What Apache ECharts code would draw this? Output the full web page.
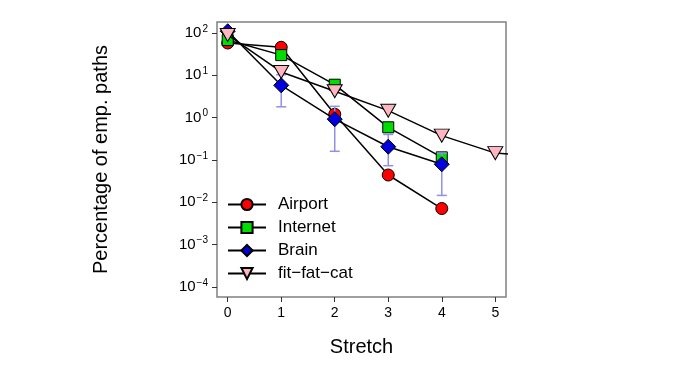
<!DOCTYPE html>
<html>
<head>
<meta charset="utf-8">
<script src="https://cdn.jsdelivr.net/npm/echarts@6/dist/echarts.min.js"></script>
<style>html,body{margin:0;padding:0;background:#fff}#c{width:680px;height:368px}</style>
</head>
<body>
<div id="c"></div>
<script>
var stretch = [0, 1, 2, 3, 4, 5, 6];
var airport = [58, 46, 1.2, 0.044, 0.0071];
var internet = [68, 30, 6.0, 0.59, 0.115];
var brain = [110, 5.8, 0.92, 0.205, 0.079];
var fitFatCat = [90, 12, 4.2, 1.46, 0.375, 0.145, 0.12];
var brainErrX = [1, 2, 3, 4];
var brainErrLow = [1.8, 0.16, 0.073, 0.0145];
var brainErrHigh = [10.3, 1.85, 0.4, 0.145];
var xTicks = [0, 1, 2, 3, 4, 5];
var yTicks = [1e-4, 1e-3, 1e-2, 1e-1, 1, 10, 100];
var seriesNames = ['Airport', 'Internet', 'Brain', 'fit\u2212fat\u2212cat'];

var FONT = '"Liberation Sans", Arial, Helvetica, sans-serif';
function pairs(ys) { return ys.map(function (y, i) { return [stretch[i], y]; }); }
var triDown = 'path://M0,0 L12,0 L6,11 Z';
var diamond = 'path://M6,0 L12,6 L6,12 L0,6 Z';

function lineSeries(name, data, symbol, size, color, z) {
  return {
    name: name, type: 'line', data: pairs(data), symbol: symbol, symbolSize: size,
    showSymbol: true, clip: true, z: z,
    lineStyle: { color: '#000', width: 1.5 },
    itemStyle: { color: color, borderColor: '#000', borderWidth: 1 },
    emphasis: { disabled: true }
  };
}

var chart = echarts.init(document.getElementById('c'), null, { renderer: 'canvas' });
chart.setOption({
  animation: false,
  backgroundColor: '#fff',
  grid: { left: 217, top: 22, right: 174, bottom: 71, show: true, borderColor: '#808080', borderWidth: 1.5, backgroundColor: 'transparent' },
  legend: {
    data: seriesNames, orient: 'vertical', left: 222, top: 191, itemGap: 6,
    itemWidth: 38, itemHeight: 14,
    textStyle: { fontFamily: FONT, fontSize: 17, color: '#000', padding: [0, 0, 0, 7] }
  },
  xAxis: {
    type: 'value', min: -0.2, max: 5.2,
    name: 'Stretch', nameLocation: 'middle', nameGap: 40,
    nameTextStyle: { fontFamily: FONT, fontSize: 20, color: '#000' },
    axisLine: { show: false, onZero: false },
    axisTick: { show: true, inside: false, length: 5, lineStyle: { color: '#333', width: 1 }, customValues: xTicks },
    axisLabel: { show: true, margin: 9, fontFamily: FONT, fontSize: 14, color: '#000', customValues: xTicks },
    splitLine: { show: false }
  },
  yAxis: {
    type: 'log', logBase: 10, min: Math.pow(10, -4.24), max: Math.pow(10, 2.26),
    name: 'Percentage of emp. paths', nameLocation: 'middle', nameGap: 106, nameRotate: 90,
    nameTextStyle: { fontFamily: FONT, fontSize: 20, color: '#000' },
    axisLine: { show: false, onZero: false },
    axisTick: { show: true, inside: false, length: 5, lineStyle: { color: '#333', width: 1 }, customValues: yTicks },
    axisLabel: {
      show: true, margin: 9, customValues: yTicks,
      formatter: function (v) {
        var e = Math.round(Math.log10(v));
        var s = e < 0 ? '\u2212' + (-e) : '' + e;
        return '{b|10}{s|' + s + '}';
      },
      rich: {
        b: { fontFamily: FONT, fontSize: 15, color: '#000' },
        s: { fontFamily: FONT, fontSize: 10, color: '#000', verticalAlign: 'top', padding: [0, 0, 8, 1] }
      }
    },
    splitLine: { show: false }
  },
  series: [
    lineSeries(seriesNames[0], airport, 'circle', 12, '#ff0000', 2),
    lineSeries(seriesNames[1], internet, 'rect', 11, '#00dd00', 3),
    {
      type: 'custom', z: 3.5, silent: true,
      data: brainErrX.map(function (x, i) { return [x, brainErrLow[i], brainErrHigh[i]]; }),
      renderItem: function (params, api) {
        var lo = api.coord([api.value(0), api.value(1)]);
        var hi = api.coord([api.value(0), api.value(2)]);
        var w = 5;
        var st = { stroke: '#9090e6', lineWidth: 1.5 };
        return {
          type: 'group', children: [
            { type: 'line', shape: { x1: lo[0], y1: lo[1], x2: hi[0], y2: hi[1] }, style: st },
            { type: 'line', shape: { x1: lo[0] - w, y1: lo[1], x2: lo[0] + w, y2: lo[1] }, style: st },
            { type: 'line', shape: { x1: hi[0] - w, y1: hi[1], x2: hi[0] + w, y2: hi[1] }, style: st }
          ]
        };
      }
    },
    lineSeries(seriesNames[2], brain, diamond, 15, '#0000dd', 4),
    lineSeries(seriesNames[3], fitFatCat, triDown, [15, 13], '#ffb6c1', 6)
  ]
});
</script>
</body>
</html>
